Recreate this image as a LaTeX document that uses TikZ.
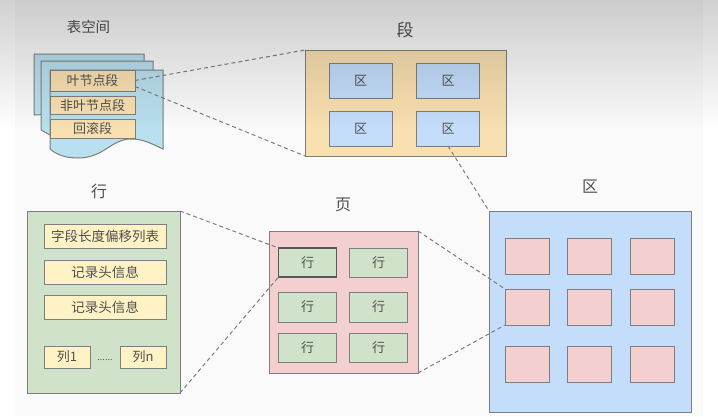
\documentclass[tikz,border=0pt]{standalone}
\usepackage{fontspec}
\setmainfont{Noto Sans CJK SC}
\usetikzlibrary{fadings}
\definecolor{bordo}{HTML}{7E7E7E}
\definecolor{testo}{HTML}{505050}
\definecolor{foglio}{HTML}{B9E0EF}
\definecolor{sabbia}{HTML}{F9E0B0}
\definecolor{azzurro}{HTML}{C3DDFB}
\definecolor{rosa}{HTML}{F4CFCF}
\definecolor{verde}{HTML}{D0E2C9}
\definecolor{giallo}{HTML}{FFF2C4}
\tikzfading[name=ombra,top color=transparent!82,bottom color=transparent!100]
\tikzset{
  box/.style 2 args={draw=bordo,line width=1pt,inner sep=0pt,outer sep=0pt,
    text=testo,font=\fontsize{13}{13}\selectfont,minimum width=#1pt,minimum height=#2pt},
  titolo/.style={text=testo,inner sep=0pt,font=\fontsize{16}{16}\selectfont},
  legame/.style={dash pattern=on 4pt off 3pt,draw=bordo,line width=1pt}
}
\begin{document}
\begin{tikzpicture}[x=1pt,y=-1pt]
\useasboundingbox (0,0) rectangle (718,416);
% sfondo
   \fill[white] (0,0) rectangle (718,416);
   \fill[black!2] (15,0) rectangle (703,416);
% tablespace: tre fogli
   \draw[bordo,fill=foglio,line width=1pt] (34,54) -- (144,54) -- (144,110) -- (34,115) -- cycle;
   \draw[bordo,fill=foglio,line width=1pt] (41,61) -- (153,61) -- (153,125) -- (50,135) -- (41,130) -- cycle;
   \draw[bordo,fill=foglio,line width=1pt] (50,70) -- (163,70) -- (163,149)
   .. controls (150,143) and (143,139) .. (131,139)
   .. controls (111,139) and (104,158) .. (78,158)
   .. controls (66,158) and (57,155) .. (50,149) -- cycle;
   \node[titolo,font=\fontsize{14.5}{14.5}\selectfont] (tsp) at (88.5,27) {表空间};
   \node[box={85}{21},fill=sabbia] (leaf) at (92.5,80.5) {叶节点段};
   \node[box={85}{18},fill=sabbia] (nonleaf) at (92.5,105.5) {非叶节点段};
   \node[box={85}{19},fill=sabbia] (rollback) at (92.5,128.5) {回滚段};
% segmento
   \node[box={201}{106},fill=sabbia] (seg) at (405.5,103) {};
   \node[titolo,font=\fontsize{17}{17}\selectfont] (segt) at (405,30) {段};
   \node[box={63}{35},fill=azzurro] (seg1) at (360.5,80.5) {区};
   \node[box={63}{35},fill=azzurro] (seg2) at (448,80.5) {区};
   \node[box={63}{35},fill=azzurro] (seg3) at (360.5,128.5) {区};
   \node[box={63}{35},fill=azzurro] (seg4) at (448,128.5) {区};
% riga
   \node[box={153}{182},fill=verde] (row) at (103.5,302) {};
   \node[titolo] (rowt) at (99,191) {行};
   \node[box={122}{24},fill=giallo,font=\fontsize{13.5}{13.5}\selectfont] (len) at (105,236.5) {字段长度偏移列表};
   \node[box={122}{24},fill=giallo,font=\fontsize{13.5}{13.5}\selectfont] (hdr1) at (105,272) {记录头信息};
   \node[box={122}{24},fill=giallo,font=\fontsize{13.5}{13.5}\selectfont] (hdr2) at (105,307.5) {记录头信息};
   \node[box={46}{22},fill=giallo] (col1) at (67,357) {列1};
   \node[box={46}{22},fill=giallo] (coln) at (143,357) {列n};
   \node[text=testo,inner sep=0pt,font=\fontsize{9}{9}\selectfont] (dots) at (105,360) {......};
% pagina
   \node[box={149}{142},fill=rosa] (page) at (343.5,302) {};
   \node[titolo] (paget) at (343,205) {页};
   \node[box={58}{29},fill=verde,draw=black!65,line width=1.4pt] (line1) at (307.5,262.5) {行};
   \node[box={58}{29},fill=verde] (line2) at (378.5,262.5) {行};
   \node[box={58}{30},fill=verde] (line3) at (307.5,307) {行};
   \node[box={58}{30},fill=verde] (line4) at (378.5,307) {行};
   \node[box={58}{29},fill=verde] (line5) at (307.5,347.5) {行};
   \node[box={58}{29},fill=verde] (line6) at (378.5,347.5) {行};
% extent
   \node[box={202}{201},fill=azzurro] (ext) at (590,311.5) {};
   \node[titolo] (extt) at (590,187) {区};
   \foreach \i/\x in {1/527,2/589.5,3/652}
     \foreach \j/\y in {1/256,2/307,3/364}
       \node[box={44}{36},fill=rosa] (pg\j\i) at (\x,\y) {};
% collegamenti
   \draw[legame] (leaf.east) -- (seg.north west);
   \draw[legame] ([yshift=-6pt]leaf.east) -- (seg.south west);
   \draw[legame] (seg4.south) -- (ext.north west);
   \draw[legame] (row.north east) -- (line1.north west);
   \draw[legame] (row.south east) -- (line1.south west);
   \draw[legame] (page.north east) -- (pg21.north west);
   \draw[legame] (page.south east) -- (pg21.south west);
% ombra in alto
   \fill[black,path fading=ombra] (0,0) rectangle (718,130);
\end{tikzpicture}
\end{document}
